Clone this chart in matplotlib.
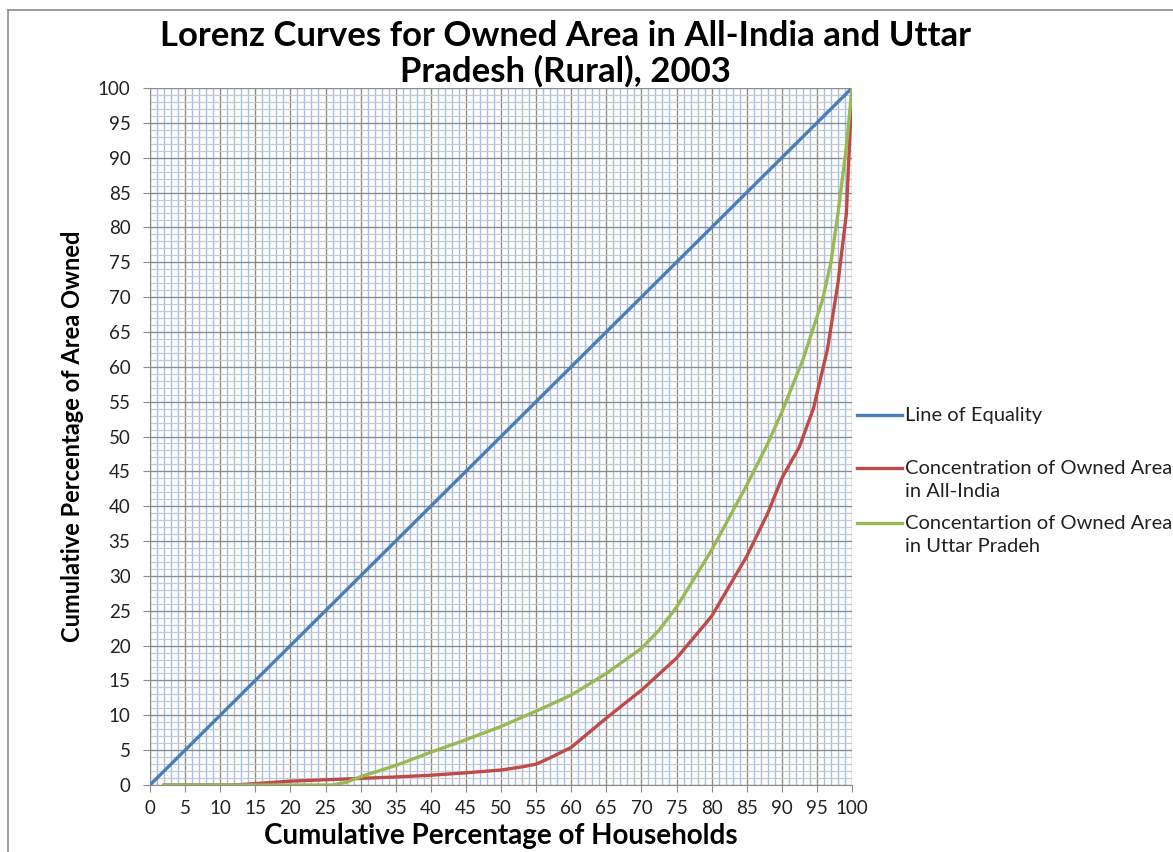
import matplotlib.pyplot as plt
from matplotlib.lines import Line2D
from matplotlib.ticker import MultipleLocator

# cumulative % of households vs cumulative % of area owned
equal_x = [0, 100]
equal_y = [0, 100]

india_x = [2, 12, 15, 20, 25, 30, 35, 40, 45, 50, 53, 55, 57, 60, 62.5, 65,
           70, 75, 80, 85, 88, 90, 92.5, 94.5, 96.5, 98, 99.2, 100]
india_y = [0, 0, 0.2, 0.55, 0.75, 0.95, 1.15, 1.4, 1.75, 2.15, 2.6, 3.0,
           3.9, 5.4, 7.5, 9.6, 13.6, 18.2, 24.2, 32.8, 39, 44, 48.5, 54,
           62.5, 72, 82, 100]

up_x = [2, 10, 20, 26, 28, 30, 35, 40, 45, 50, 55, 60, 65, 70, 72.5, 75,
        80, 85, 88, 90, 93, 95.8, 97, 98, 99.2, 100]
up_y = [0, 0, 0, 0, 0.4, 1.2, 2.8, 4.7, 6.5, 8.4, 10.6, 12.9, 16, 19.6,
        22.2, 25.5, 33.7, 43, 49, 53.5, 61, 69.6, 75, 82, 91.6, 100]

labels = ["Line of Equality",
          "Concentration of Owned Area\nin All-India",
          "Concentartion of Owned Area\nin Uttar Pradeh"]
colors = ["#4a7ebb", "#be4b48", "#98b954"]

plt.rcParams["font.family"] = ["Lato", "DejaVu Sans"]

W, H = 1173, 852
fig = plt.figure(figsize=(W / 100, H / 100), dpi=100)
ax = fig.add_axes([150 / W, 1 - 785 / H, 702 / W, 697 / H])

ax.plot(equal_x, equal_y, color=colors[0], lw=2.4, zorder=3)
ax.plot(india_x, india_y, color=colors[1], lw=2.4, zorder=3)
ax.plot(up_x, up_y, color=colors[2], lw=2.4, zorder=4)

ax.set_xlim(0, 100)
ax.set_ylim(0, 100)
ax.xaxis.set_major_locator(MultipleLocator(5))
ax.yaxis.set_major_locator(MultipleLocator(5))
ax.xaxis.set_minor_locator(MultipleLocator(1))
ax.yaxis.set_minor_locator(MultipleLocator(1))

ax.grid(True, which="minor", axis="x", color="#a3bfea", lw=1.0, zorder=0)
ax.grid(True, which="minor", axis="y", color="#c9c9c9", lw=0.9, zorder=0)
ax.grid(True, which="major", color="#8c8c8c", lw=1.0, zorder=1)
ax.set_axisbelow(True)

for side in ["top", "right"]:
    ax.spines[side].set_visible(False)
for side in ["left", "bottom"]:
    ax.spines[side].set_color("#8c8c8c")
ax.tick_params(which="major", length=5, color="#8c8c8c", labelsize=13.5,
               labelcolor="#222222")
ax.tick_params(which="minor", length=0)
ax.tick_params(axis="x", pad=6)
ax.tick_params(axis="y", pad=9)

ax.set_xlabel("Cumulative Percentage of Households", fontsize=20,
              fontweight="bold", labelpad=4)
ax.set_ylabel("Cumulative Percentage of Area Owned", fontsize=17,
              fontweight="bold", labelpad=10)

fig.text(565 / W, 1 - 54 / H,
         "Lorenz Curves for Owned Area in All-India and Uttar\nPradesh (Rural), 2003",
         ha="center", va="center", fontsize=25, fontweight="bold",
         linespacing=1.12)

# legend drawn at fixed spots to the right of the plot
leg_y = [415, 468, 523]
for lbl, c, yy in zip(labels, colors, leg_y):
    fig.add_artist(Line2D([857 / W, 902 / W], [1 - yy / H, 1 - yy / H],
                          color=c, lw=2.4))
    fig.text(905 / W, 1 - (yy - 8) / H, lbl, ha="left", va="top",
             fontsize=14.5, color="#222222", linespacing=1.45)

# outer chart frame
fig.add_artist(Line2D([8 / W, 8 / W], [1 - 10 / H, 0], color="#8c8c8c", lw=1.2))
fig.add_artist(Line2D([8 / W, 1], [1 - 10 / H, 1 - 10 / H], color="#8c8c8c", lw=1.2))

fig.savefig("out.png", dpi=100)
